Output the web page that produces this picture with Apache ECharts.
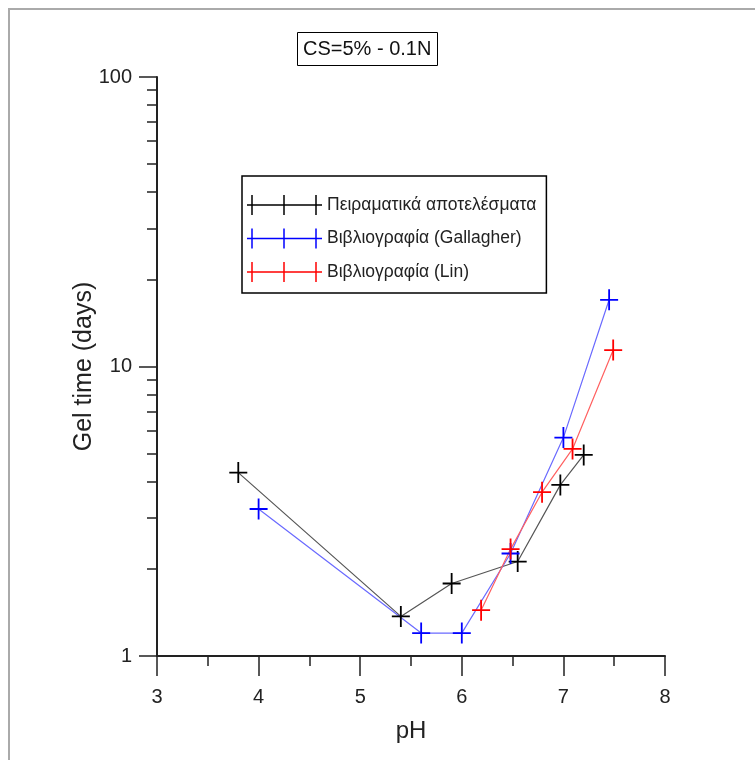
<!DOCTYPE html>
<html>
<head>
<meta charset="utf-8">
<script src="https://cdn.jsdelivr.net/npm/echarts@6/dist/echarts.min.js"></script>
<style>
  html, body { margin: 0; padding: 0; background: #fff; }
  #chart { width: 755px; height: 760px; }
</style>
</head>
<body>
<div id="chart"></div>
<script>
// pH / gel time (days)
const phExp = [3.8, 5.4, 5.9, 6.55, 6.97, 7.2]
const gelExp = [4.3, 1.37, 1.78, 2.12, 3.9, 4.95]
const phGal = [4.0, 5.6, 6.0, 6.48, 7.0, 7.45]
const gelGal = [3.22, 1.2, 1.2, 2.26, 5.68, 17.0]
const phLin = [6.19, 6.48, 6.79, 7.09, 7.49]
const gelLin = [1.44, 2.34, 3.68, 5.19, 11.4]

const seriesNames = ['Πειραματικά αποτελέσματα', 'Βιβλιογραφία (Gallagher)', 'Βιβλιογραφία (Lin)']
const xTicks = [3, 4, 5, 6, 7, 8]
const yMajor = [1, 10, 100]
const yMinor = [2, 3, 4, 5, 6, 7, 8, 9, 20, 30, 40, 50, 60, 70, 80, 90]

const font = "'Liberation Sans', Arial, sans-serif"
const crossSymbol = 'path://M0,9.6h18v1.8h-18z M8.1,0h1.8v21h-1.8z'
const legendIcon = 'path://M0,9.25h75v1.5h-75z M4.25,0h1.5v20h-1.5z M36.25,0h1.5v20h-1.5z M68.25,0h1.5v20h-1.5z'

function pairs(xs, ys) {
   return xs.map((x, i) => [x, ys[i]])
}

let chart = echarts.init(document.getElementById('chart'))
let option = {
   animation: false,
   textStyle: { fontFamily: font },
   title: {
      text: 'CS=5% - 0.1N',
      left: 297,
      top: 32,
      padding: [7, 6],
      borderColor: '#000',
      borderWidth: 1,
      textStyle: {
         fontFamily: font,
         fontSize: 20,
         fontWeight: 'normal',
         color: '#111'
      }
   },
   legend: {
      orient: 'vertical',
      left: 242,
      top: 176,
      padding: [19, 10, 11, 5],
      borderColor: '#000',
      borderWidth: 1.5,
      itemWidth: 75,
      itemHeight: 20,
      itemGap: 13.5,
      icon: legendIcon,
      itemStyle: { borderWidth: 0 },
      textStyle: {
         fontFamily: font,
         fontSize: 17.5,
         color: '#222'
      },
      data: seriesNames
   },
   graphic: [
      {
         type: 'rect',
         silent: true,
         shape: { x: 9, y: 9, width: 900, height: 900 },
         style: { fill: 'none', stroke: '#aaa', lineWidth: 2 }
      }
   ],
   grid: {
      left: 157,
      right: 90,
      top: 77,
      bottom: 104
   },
   xAxis: {
      type: 'value',
      min: 3,
      max: 8,
      interval: 1,
      name: 'pH',
      nameLocation: 'middle',
      nameGap: 63,
      nameMoveOverlap: false,
      nameTextStyle: { fontFamily: font, fontSize: 24, color: '#222' },
      axisLine: { lineStyle: { color: '#222', width: 2 } },
      axisTick: { length: 20, lineStyle: { color: '#222', width: 1.5 } },
      minorTick: { show: true, splitNumber: 2, length: 10, lineStyle: { color: '#222', width: 1.5 } },
      axisLabel: {
         margin: 31,
         fontFamily: font,
         fontSize: 20,
         color: '#222',
         customValues: xTicks
      },
      splitLine: { show: false }
   },
   yAxis: [
      {
         type: 'log',
         logBase: 10,
         min: 1,
         max: 100,
         name: 'Gel time (days)',
         nameLocation: 'middle',
         nameGap: 60,
         nameMoveOverlap: false,
         nameTextStyle: { fontFamily: font, fontSize: 25, color: '#222' },
         axisLine: { show: true, lineStyle: { color: '#222', width: 2 } },
         axisTick: { show: true, length: 18, customValues: yMajor, lineStyle: { color: '#222', width: 1.5 } },
         axisLabel: {
            margin: 25,
            fontFamily: font,
            fontSize: 20,
            color: '#222',
            customValues: yMajor
         },
         splitLine: { show: false }
      },
      {
         type: 'log',
         logBase: 10,
         min: 1,
         max: 100,
         position: 'left',
         axisLine: { show: false },
         axisTick: { show: true, length: 10, customValues: yMinor, lineStyle: { color: '#222', width: 1.5 } },
         axisLabel: { show: false },
         splitLine: { show: false }
      }
   ],
   series: [
      {
         name: seriesNames[0],
         type: 'line',
         data: pairs(phExp, gelExp),
         symbol: crossSymbol,
         symbolSize: [18, 21],
         itemStyle: { color: '#000', borderWidth: 0 },
         lineStyle: { color: '#555', width: 1.2 }
      },
      {
         name: seriesNames[1],
         type: 'line',
         data: pairs(phGal, gelGal),
         symbol: crossSymbol,
         symbolSize: [18, 21],
         itemStyle: { color: '#0000ff', borderWidth: 0 },
         lineStyle: { color: '#6a6aff', width: 1.2 }
      },
      {
         name: seriesNames[2],
         type: 'line',
         data: pairs(phLin, gelLin),
         symbol: crossSymbol,
         symbolSize: [18, 21],
         itemStyle: { color: '#ff0000', borderWidth: 0 },
         lineStyle: { color: '#ff6060', width: 1.2 }
      }
   ]
}

chart.setOption(option)
</script>
</body>
</html>
